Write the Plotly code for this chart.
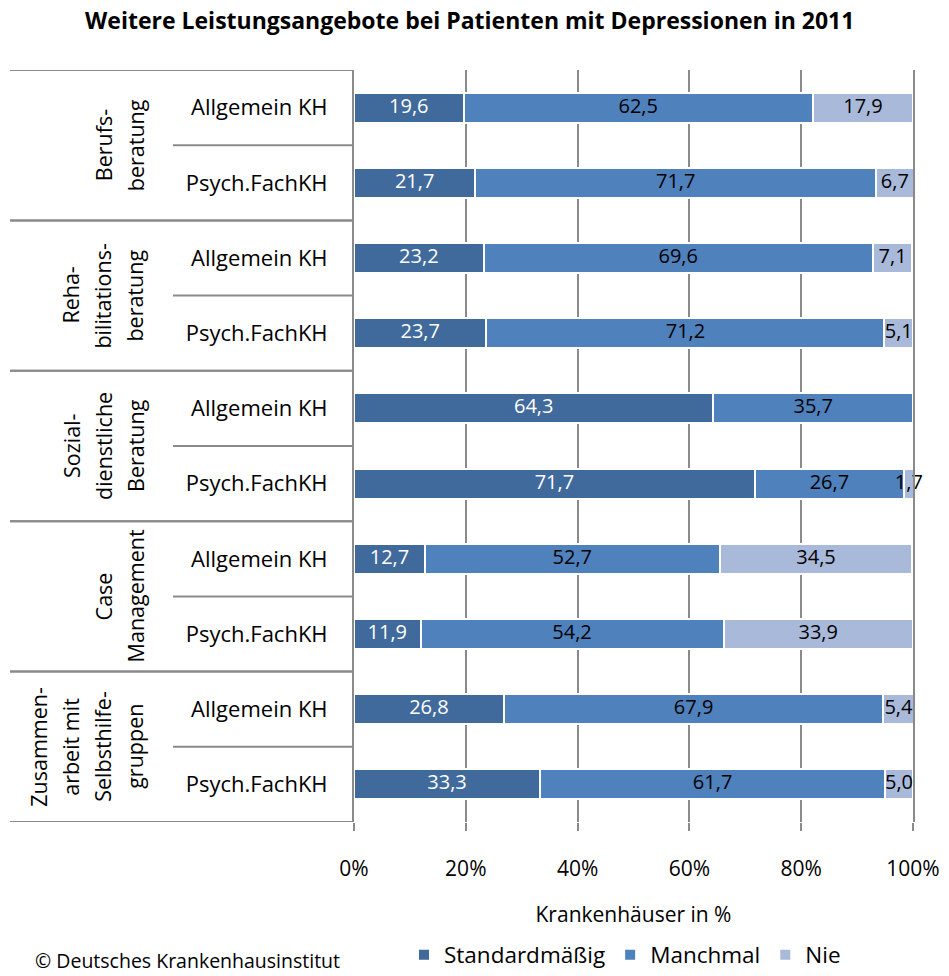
import plotly.graph_objects as go

# Survey data: share of hospitals offering each service (in %)
groups = [
    ["Berufs-", "beratung"],
    ["Reha-", "bilitations-", "beratung"],
    ["Sozial-", "dienstliche", "Beratung"],
    ["Case", "Management"],
    ["Zusammen-", "arbeit mit", "Selbsthilfe-", "gruppen"],
]
hospital_types = ["Allgemein KH", "Psych.FachKH"]

standard = [19.6, 21.7, 23.2, 23.7, 64.3, 71.7, 12.7, 11.9, 26.8, 33.3]
manchmal = [62.5, 71.7, 69.6, 71.2, 35.7, 26.7, 52.7, 54.2, 67.9, 61.7]
nie = [17.9, 6.7, 7.1, 5.1, None, 1.7, 34.5, 33.9, 5.4, 5.0]

series = [
    ("Standardmäßig", standard, "#416A9C", "white"),
    ("Manchmal", manchmal, "#4F81BD", "black"),
    ("Nie", nie, "#A9B9D9", "black"),
]

x_ticks = [0, 20, 40, 60, 80, 100]
x_tick_labels = [f"{t}%" for t in x_ticks]

rows = list(range(len(groups) * len(hospital_types)))
row_labels = [t for _ in groups for t in hospital_types]

FONT = "Open Sans"
GRID = "#8A8A8A"

fig = go.Figure()
base = [0.0] * len(rows)
for name, vals, color, txtcolor in series:
    fig.add_trace(go.Bar(
        y=rows, x=vals, name=name, orientation="h",
        marker=dict(color=color, line=dict(color="white", width=2)),
        hoverinfo="skip",
    ))
    # value labels centred on each segment
    mids, labels = [], []
    for i, v in enumerate(vals):
        if v is None:
            mids.append(None)
            labels.append("")
            continue
        mids.append(base[i] + v / 2)
        labels.append(f"{v:.1f}".replace(".", ","))
        base[i] += v
    fig.add_trace(go.Scatter(
        x=mids, y=rows, mode="text", text=labels, textposition="middle center",
        textfont=dict(family=FONT, size=20, color=txtcolor),
        showlegend=False, hoverinfo="skip", cliponaxis=False,
    ))

# plot-area geometry in pixels, used to place decorations left of the axis
L, R, T, B, W, H = 354, 36, 70, 154, 949, 976
pw = W - L - R
ph = H - T - B


def px_to_paper(px):
    return (px - L) / pw


def py_to_paper(py):
    return (H - B - py) / ph


shapes = []
annotations = []
n_types = len(hospital_types)
for gi, lines in enumerate(groups):
    top = gi * n_types - 0.5
    bottom = top + n_types
    # outer group separators
    for yv in (top, bottom):
        shapes.append(dict(type="line", xref="paper", yref="y",
                           x0=px_to_paper(10), x1=0, y0=yv, y1=yv,
                           line=dict(color=GRID, width=2)))
    # inner separator between the hospital types
    for k in range(1, n_types):
        yv = top + k
        shapes.append(dict(type="line", xref="paper", yref="y",
                           x0=px_to_paper(173), x1=0, y0=yv, y1=yv,
                           line=dict(color=GRID, width=2)))
    # rotated group label, one annotation per line
    center = top + n_types / 2
    n = len(lines)
    for li, line in enumerate(lines):
        xpx = 135 - (n - 1 - li) * 32
        annotations.append(dict(
            text=line, xref="paper", yref="y", x=px_to_paper(xpx), y=center,
            textangle=-90, showarrow=False, xanchor="center", yanchor="middle",
            font=dict(family=FONT, size=21.5, color="black"),
        ))

annotations.append(dict(
    text="© Deutsches Krankenhausinstitut", xref="paper", yref="paper",
    x=px_to_paper(33), y=py_to_paper(960), xanchor="left",
    yanchor="middle", showarrow=False,
    font=dict(family=FONT, size=19.5, color="black"),
))

fig.update_layout(
    width=W, height=H,
    margin=dict(l=L, r=R, t=T, b=B, autoexpand=False),
    paper_bgcolor="white", plot_bgcolor="white",
    barmode="stack", bargap=0.6,
    font=dict(family=FONT, size=20, color="black"),
    title=dict(text="<b>Weitere Leistungsangebote bei Patienten mit Depressionen in 2011</b>",
               x=0.495, xanchor="center", y=1 - 21 / H, yanchor="middle",
               font=dict(family=FONT, size=23, color="black")),
    xaxis=dict(range=[0, 100], tickvals=x_ticks, ticktext=x_tick_labels,
               showgrid=True, gridcolor=GRID, gridwidth=2,
               ticks="outside", ticklen=8, tickcolor=GRID, tickwidth=2,
               showline=False, zeroline=False, automargin=False,
               ticklabelstandoff=20,
               tickfont=dict(family=FONT, size=21),
               title=dict(text="Krankenhäuser in %", standoff=26,
                          font=dict(family=FONT, size=21))),
    yaxis=dict(tickvals=rows, ticktext=row_labels,
               range=[len(rows) - 0.5, -0.5], automargin=False,
               showgrid=False, zeroline=False,
               showline=True, linecolor=GRID, linewidth=2, mirror=True,
               ticks="", ticklabelstandoff=20,
               tickfont=dict(family=FONT, size=22)),
    legend=dict(orientation="h", x=px_to_paper(404), xanchor="left",
                y=py_to_paper(955), yanchor="middle",
                font=dict(family=FONT, size=22.5), traceorder="normal",
                itemwidth=30),
    shapes=shapes,
    annotations=annotations,
)

fig.write_html("out.html")
